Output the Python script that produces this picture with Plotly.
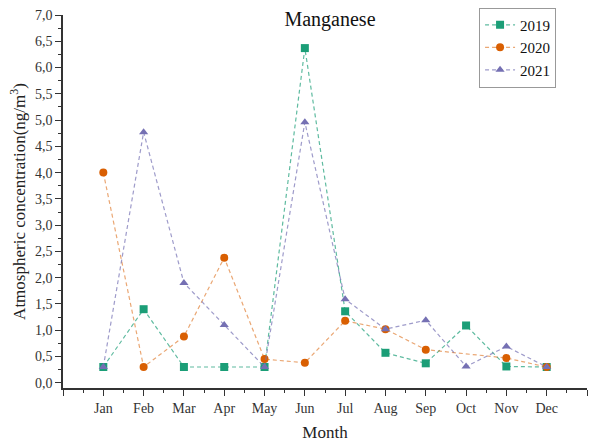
import plotly.graph_objects as go

months = ["Jan", "Feb", "Mar", "Apr", "May", "Jun", "Jul", "Aug", "Sep", "Oct", "Nov", "Dec"]
month_pos = list(range(1, 13))

mn_2019 = [0.30, 1.40, 0.30, 0.30, 0.30, 6.37, 1.36, 0.57, 0.37, 1.09, 0.31, 0.30]
mn_2020 = [4.00, 0.30, 0.88, 2.38, 0.45, 0.38, 1.18, 1.02, 0.63, None, 0.47, 0.30]
mn_2021 = [0.30, 4.77, 1.90, 1.10, 0.30, 4.96, 1.59, 1.02, 1.19, 0.31, 0.69, 0.30]

series = [
    ("2019", mn_2019, "#1b9e77", "square", "rgba(27,158,119,0.7)"),
    ("2020", mn_2020, "#d95f02", "circle", "rgba(217,95,2,0.55)"),
    ("2021", mn_2021, "#7570b3", "triangle-up", "rgba(117,112,179,0.7)"),
]

font_family = "Liberation Serif"

fig = go.Figure()
for name, vals, col, sym, lcol in series:
    fig.add_trace(go.Scatter(
        x=month_pos, y=vals, name=name, mode="lines+markers",
        connectgaps=True,
        line=dict(color=lcol, width=1.2, dash="4px,3px"),
        marker=dict(symbol=sym, size=8, color=col),
    ))

fig.update_layout(
    width=590, height=443,
    margin=dict(l=63, r=3, t=15, b=55),
    paper_bgcolor="white", plot_bgcolor="white",
    separators=",.",
    font=dict(family=font_family, size=14, color="#222"),
    title=dict(text="Manganese", x=330 / 590, xanchor="center", y=1 - 19 / 443,
               yanchor="middle", font=dict(family=font_family, size=20, color="#111")),
    showlegend=True,
    legend=dict(x=0.794, y=1.02, xanchor="left", yanchor="top",
                bordercolor="#999", borderwidth=1, bgcolor="white",
                font=dict(family=font_family, size=15, color="#111"),
                tracegroupgap=0, itemwidth=30),
    xaxis=dict(
        range=[0, 13], tickmode="array",
        tickvals=list(range(0, 14)),
        ticktext=[""] + months + [""],
        ticks="outside", ticklen=6, tickwidth=1.2, tickcolor="#333",
        minor=dict(tickmode="array", tickvals=[i + 0.5 for i in range(13)],
                   ticks="outside", ticklen=3, tickcolor="#333"),
        showline=True, linecolor="#333", linewidth=1.5,
        showgrid=False, zeroline=False,
        tickfont=dict(family=font_family, size=14, color="#333"),
        title=dict(text="Month", font=dict(family=font_family, size=17, color="#222"), standoff=12),
    ),
    yaxis=dict(
        range=[-0.1, 7.0], tickmode="linear", tick0=0, dtick=0.5,
        tickformat=".1f",
        ticks="outside", ticklen=6, tickwidth=1.2, tickcolor="#333",
        minor=dict(dtick=0.25, tick0=0, ticks="outside", ticklen=3, tickcolor="#333"),
        showline=True, linecolor="#333", linewidth=1.5,
        showgrid=False, zeroline=False,
        tickfont=dict(family=font_family, size=14, color="#333"),
        title=dict(text="Atmospheric concentration(ng/m<sup>3</sup>)",
                   font=dict(family=font_family, size=17, color="#222"), standoff=5),
    ),
)

fig.write_html("out.html")
